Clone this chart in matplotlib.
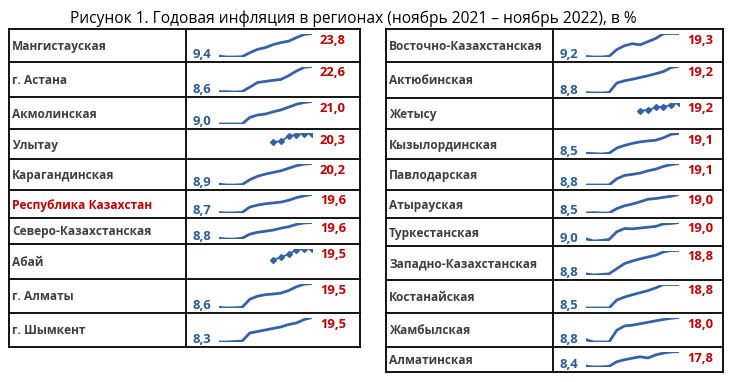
import numpy as np
import matplotlib.pyplot as plt

plt.rcParams['font.family'] = ['Open Sans', 'DejaVu Sans']

# ноябрь 2021 - ноябрь 2022, годовая инфляция, %
months = ['11.21', '12.21', '01.22', '02.22', '03.22', '04.22', '05.22',
          '06.22', '07.22', '08.22', '09.22', '10.22', '11.22']
na = np.nan

# left table
left_names = ['Мангистауская', 'г. Астана', 'Акмолинская', 'Улытау', 'Карагандинская',
              'Республика Казахстан', 'Северо-Казахстанская', 'Абай', 'г. Алматы', 'г. Шымкент']
mangistau = [9.4, 8.8, 8.8, 9.0, 11.5, 13.7, 14.8, 16.7, 18.0, 18.9, 21.2, 23.2, 23.8]
astana = [8.6, 8.6, 8.4, 8.6, 11.1, 13.7, 14.3, 14.9, 15.4, 17.5, 20.1, 22.2, 22.6]
akmola = [9.0, 9.0, 9.0, 9.0, 12.5, 13.8, 14.3, 15.5, 16.5, 18.0, 19.5, 20.5, 21.0]
ulytau = [na, na, na, na, na, na, na, 15.4, 15.5, 18.8, 19.7, 20.1, 20.3]
karaganda = [8.9, 8.4, 8.4, 8.6, 11.3, 13.2, 14.4, 15.3, 16.2, 17.6, 19.0, 19.9, 20.2]
kazakhstan = [8.7, 8.4, 8.5, 8.7, 12.0, 13.2, 14.0, 14.5, 15.0, 16.1, 17.7, 18.8, 19.6]
north_kz = [8.8, 8.3, 8.3, 8.8, 11.6, 12.9, 13.6, 14.4, 15.7, 16.7, 18.3, 19.3, 19.6]
abai = [na, na, na, na, na, na, na, 14.4, 15.5, 17.0, 18.8, 19.4, 19.5]
almaty_city = [8.6, 8.3, 8.4, 8.6, 12.3, 13.7, 14.4, 14.7, 15.1, 16.3, 18.0, 19.2, 19.5]
shymkent = [8.3, 8.3, 8.5, 8.7, 12.4, 13.1, 13.8, 14.5, 15.2, 16.3, 17.0, 18.6, 19.5]
left_series = [mangistau, astana, akmola, ulytau, karaganda,
               kazakhstan, north_kz, abai, almaty_city, shymkent]

# right table
right_names = ['Восточно-Казахстанская', 'Актюбинская', 'Жетысу', 'Кызылординская',
               'Павлодарская', 'Атырауская', 'Туркестанская', 'Западно-Казахстанская',
               'Костанайская', 'Жамбылская', 'Алматинская']
east_kz = [9.2, 8.9, 8.9, 9.2, 12.2, 13.9, 14.8, 14.3, 15.7, 17.1, 19.2, 19.3, 19.3]
aktobe = [8.8, 8.6, 8.6, 8.8, 12.6, 13.5, 14.1, 14.8, 15.5, 16.3, 17.2, 18.8, 19.2]
zhetysu = [na, na, na, na, na, na, na, 15.0, 15.2, 16.6, 17.1, 17.8, 19.2]
kyzylorda = [8.5, 8.3, 8.1, 8.5, 11.3, 12.7, 13.8, 14.6, 15.1, 15.5, 16.8, 18.7, 19.1]
pavlodar = [8.8, 8.8, 8.8, 8.8, 11.8, 13.4, 13.9, 14.5, 15.6, 16.4, 17.7, 18.6, 19.1]
atyrau = [8.5, 8.7, 8.5, 8.5, 11.0, 12.6, 13.6, 14.9, 16.3, 16.7, 17.4, 18.0, 19.0]
turkestan = [9.0, 7.6, 7.9, 8.5, 13.3, 15.3, 15.1, 15.6, 16.1, 16.6, 18.1, 18.4, 19.0]
west_kz = [8.8, 8.3, 8.5, 8.8, 11.0, 13.2, 14.3, 15.2, 16.0, 16.8, 18.2, 18.8, 18.8]
kostanay = [8.5, 8.5, 8.5, 8.5, 12.0, 13.3, 14.3, 15.2, 16.1, 17.3, 18.8, 18.8, 18.8]
zhambyl = [8.8, 7.8, 7.8, 7.8, 12.7, 14.5, 14.8, 15.4, 16.0, 16.6, 17.2, 17.7, 18.0]
almaty_reg = [8.4, 7.8, 7.9, 8.2, 11.2, 12.5, 13.5, 14.4, 13.6, 15.6, 16.8, 17.5, 17.8]
right_series = [east_kz, aktobe, zhetysu, kyzylorda, pavlodar, atyrau,
                turkestan, west_kz, kostanay, zhambyl, almaty_reg]

# layout in pixels
W, H = 733, 382
line_col = '#3562A6'
red = '#C00000'
blue = '#2A5C94'
grey = '#3F3F3F'

tables = [
    dict(names=left_names, series=left_series, x0=9, xdiv=186, x1=360,
         rows=[29, 62, 97, 129, 159, 190, 218, 244, 279, 313, 347],
         sx0=218.7, sx1=312, lab0=211, lab1=320),
    dict(names=right_names, series=right_series, x0=386, xdiv=553, x1=723,
         rows=[29, 62, 98, 129, 159, 190, 218, 246, 280, 313, 347, 372],
         sx0=585.7, sx1=679, lab0=578, lab1=687),
]

fig = plt.figure(figsize=(W / 100, H / 100), dpi=100)
bg = fig.add_axes([0, 0, 1, 1])
bg.set_xlim(0, W)
bg.set_ylim(H, 0)
bg.axis('off')

bg.text(353, 19, 'Рисунок 1. Годовая инфляция в регионах (ноябрь 2021 – ноябрь 2022), в %',
        ha='center', va='center', fontsize=11.2, color='black')


def fmt(v):
    return f'{v:.1f}'.replace('.', ',')


x = np.arange(len(months))
for t in tables:
    rows = t['rows']
    # borders
    for yb in rows:
        bg.plot([t['x0'], t['x1']], [yb, yb], color='black', lw=1.3, solid_capstyle='projecting')
    for xb in (t['x0'], t['xdiv'], t['x1']):
        bg.plot([xb, xb], [rows[0], rows[-1]], color='black', lw=1.3, solid_capstyle='projecting')

    for i, (name, s) in enumerate(zip(t['names'], t['series'])):
        top, bot = rows[i], rows[i + 1]
        s = np.array(s, dtype=float)
        bg.text(t['x0'] + 3, (top + bot) / 2 + 1, name, ha='left', va='center',
                fontsize=8.6, fontweight='bold',
                color=red if name == 'Республика Казахстан' else grey)
        bg.text(t['lab1'], top + 11, fmt(s[-1]), ha='left', va='center',
                fontsize=9.4, fontweight='bold', color=red)

        ty, by = top + 4.5, bot - 5
        ax = fig.add_axes([t['sx0'] / W, 1 - by / H, (t['sx1'] - t['sx0']) / W, (by - ty) / H])
        ax.axis('off')
        ax.set_xlim(0, len(months) - 1)
        if np.isnan(s[0]):
            # new regions: data only from June 2022
            ax.plot(x, s, color=line_col, lw=1.3, marker='D', ms=3.0)
            ax.set_ylim(8, np.nanmax(s))
        else:
            ax.plot(x, s, color=line_col, lw=2.0, solid_capstyle='round')
            ax.set_ylim(s.min(), s.max())
            bg.text(t['lab0'], bot - 7.5, fmt(s[0]), ha='right', va='center',
                    fontsize=9.4, fontweight='bold', color=blue)

fig.savefig('out.png', dpi=100)
